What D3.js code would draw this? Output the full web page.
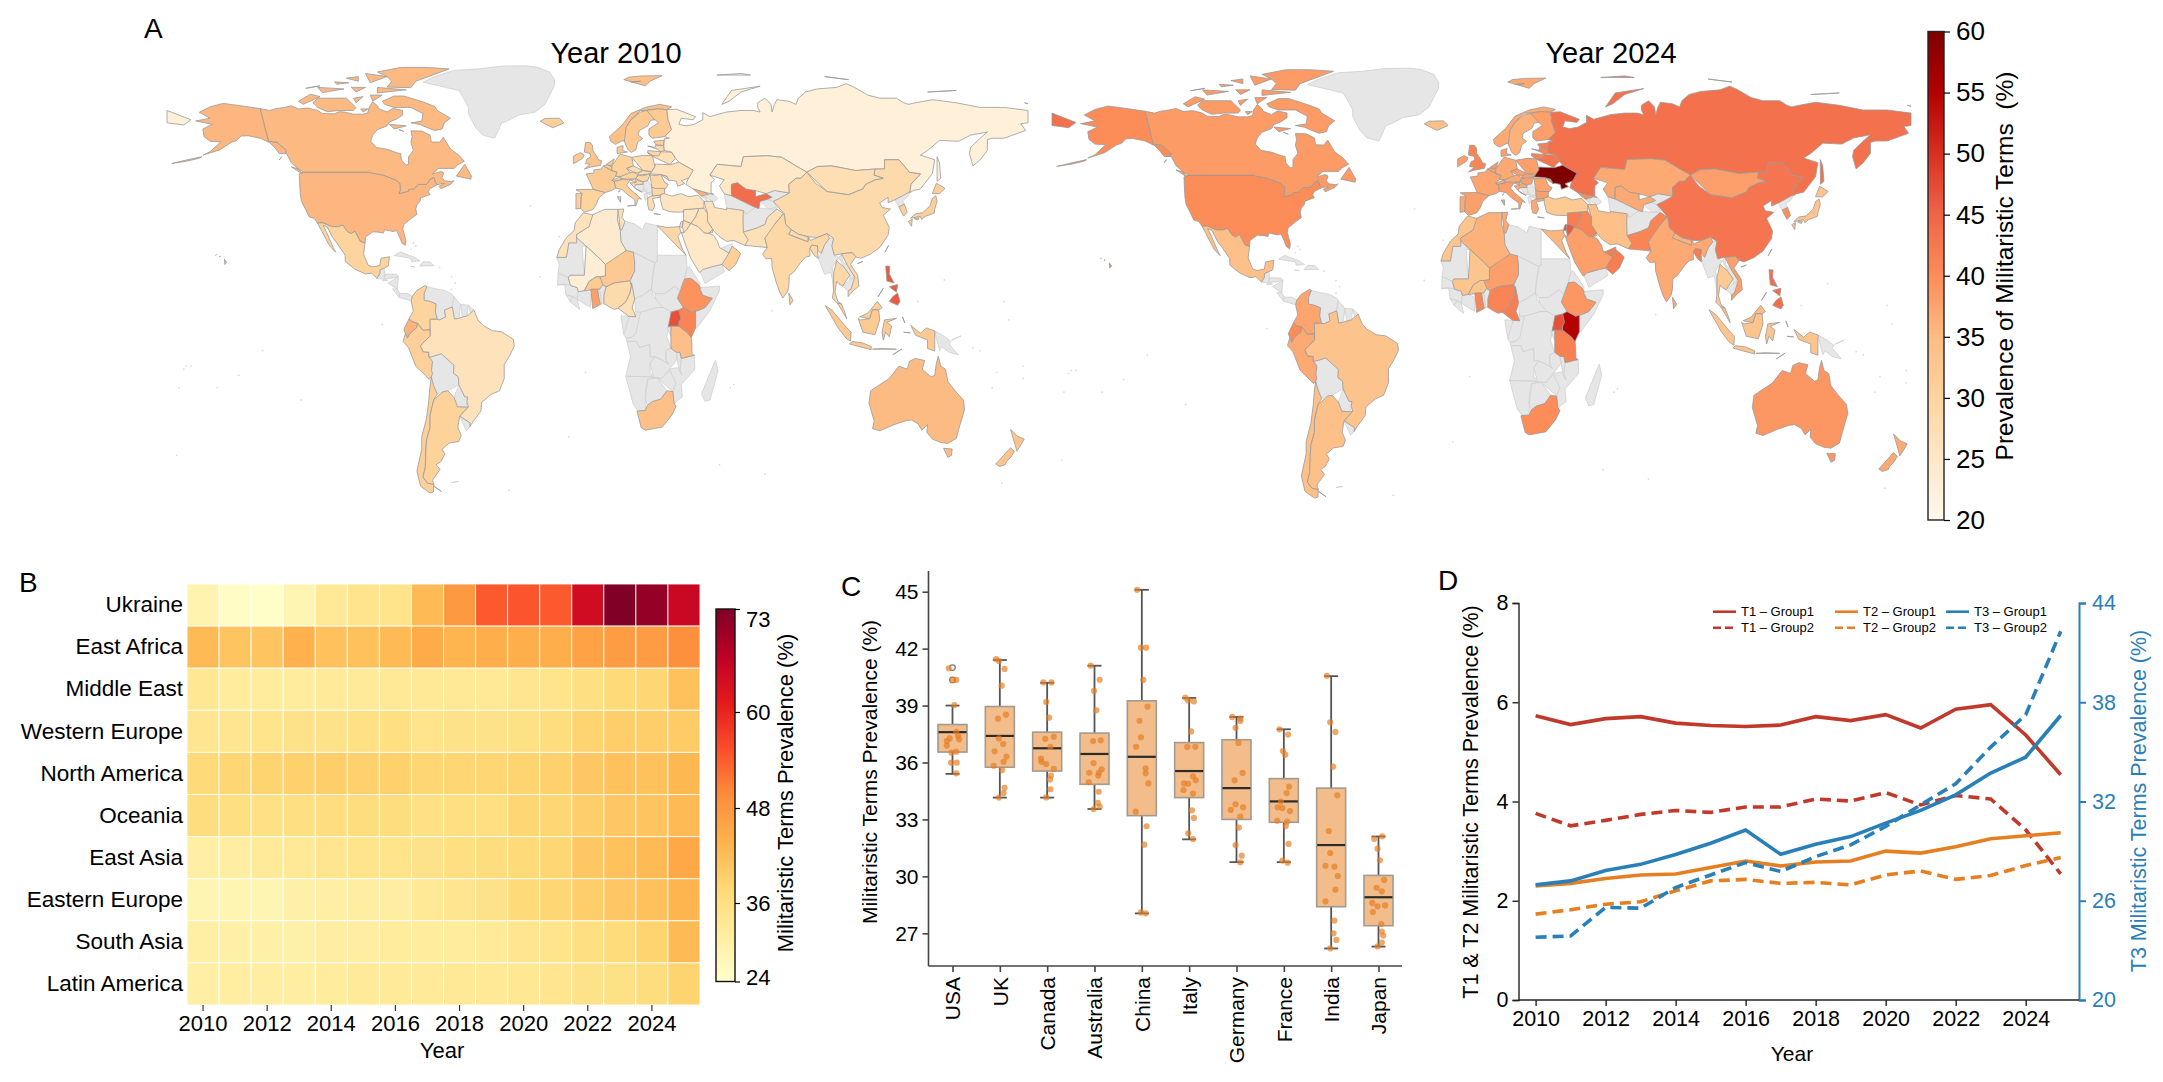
<!DOCTYPE html>
<html>
<head>
<meta charset="utf-8">
<script src="https://cdn.jsdelivr.net/npm/d3@7/dist/d3.min.js"></script>
<style>
html,body{margin:0;padding:0;background:#fff}
svg{display:block}
text{font-family:"Liberation Sans",Arial,sans-serif;fill:#000}
</style>
</head>
<body>
<svg id="fig" width="2163" height="1082" viewBox="0 0 2163 1082"></svg>
<script>
// ---------- Country outlines, simplified, as "lon lat" rings ----------
const countryRings = {
"United States":[
"-124.7 48.4,-123 49,-95.2 49,-94.6 48.7,-89.6 48,-84.5 46.5,-82.5 45.3,-82.4 43,-83 42,-79 42.8,-79 43.3,-76.5 43.6,-75 45,-71.5 45,-70 46.7,-68.3 47.3,-67.8 45.7,-67 44.9,-70 43.7,-70.8 42.7,-70 41.7,-74 40.6,-74.2 39.6,-75.5 38.4,-76 37,-75.5 35.3,-77.8 34,-81 32,-81.4 30.5,-80.1 26.8,-80.4 25.2,-81.8 26,-82.8 28,-84 30,-85.5 29.7,-89 30.3,-89.5 29.2,-91.5 29.5,-94 29.6,-97 27.9,-97.2 25.9,-99.2 26.5,-101.4 29.8,-103 29,-104.5 29.6,-106.5 31.8,-108.2 31.3,-111 31.3,-114.8 32.5,-117.1 32.5,-118.5 34,-120.6 34.5,-122 36.8,-123.8 39.5,-124.3 42,-124 46.2",
"-141 69.6,-148 70.4,-156.5 71.3,-162 70.2,-166.5 68.4,-162 66.5,-168 65.6,-161 64.5,-165 63,-164.5 60.5,-162 59,-157.5 58.8,-162 55.6,-165 54.5,-158 56.2,-153 58.7,-151 59.2,-149 60.7,-146 60.8,-141 60,-137 58.5,-135 57,-133 55,-130.5 55,-130 56,-134 58.7,-137.5 59,-141 60.3",
"-178 51.8,-172 52.5,-166 53.6,-165.5 54,-172 52.9,-178 52.2",
"-156 20.7,-155 19.7,-155.8 19,-156 19.8","-159.7 22,-159.3 22.2,-159.4 21.8","-158.2 21.6,-157.7 21.6,-158 21.2"],
"Canada":[
"-141 69.6,-137 69,-134.5 69.6,-131 70,-128 70.5,-125 69.5,-121 69.8,-117 69,-115 68,-110 67.9,-108 68.6,-106 68.5,-102 67.8,-98 67.8,-96 68.2,-95.5 70,-94 71.8,-92 70.5,-91.5 69.6,-88 68.5,-85.5 69.7,-81.5 69,-81.5 67.5,-84 66.2,-87 65.3,-88 64,-92 62.8,-94 61,-94.8 59,-92.5 57,-88 56.4,-84 55.3,-82.3 55,-82 52.9,-80 51.3,-79 51.5,-79 54,-77 56,-78 58.7,-77.5 60.5,-78 62.4,-73.5 62.3,-70 61,-69.5 58.8,-66 58.7,-64.5 60.3,-61.5 56.5,-58 54.5,-55.7 52.5,-58.5 51.3,-60 50.2,-66.5 50.2,-69 48.4,-65.5 49.2,-64.3 48.7,-65 47.2,-64 46.2,-61 45.9,-60 46.2,-61.5 45,-65.5 43.6,-66.2 44.4,-64 45.4,-67 44.9,-67.8 45.7,-68.3 47.3,-70 46.7,-71.5 45,-75 45,-76.5 43.6,-79 43.3,-79 42.8,-83 42,-82.4 43,-82.5 45.3,-84.5 46.5,-89.6 48,-94.6 48.7,-95.2 49,-123 49,-125 50,-128 52,-130 55,-130.5 55,-130 56,-134 58.7,-137.5 59,-141 60.3",
"-61.5 66.5,-64 65,-65 63,-68 62.5,-71.5 63.5,-74 64.4,-78 65,-73.5 65.5,-73 68,-78 70,-85 70,-89 71,-90 72,-85 73.7,-81 73.7,-78 73,-72 71.5,-68 70.3,-67 69,-63 67",
"-105 73,-110 73,-117 73,-119 71.5,-117 70,-113 68.6,-108 69,-102 69,-101 70,-105 71","-116 73.5,-120 74.3,-125 72,-123 71,-119 72",
"-62 82.5,-72 83,-82 83,-92 81.5,-88 80,-86 78.5,-88 76.6,-78 76.4,-76 78.5,-68 80.5","-80 75.7,-92 76.5,-92 74.7,-80 74.6",
"-88 80,-97 81,-95 78,-87 78","-106 76,-117 76.5,-115 74.8,-106 74.8","-90 74,-95 74,-94 72,-90 72",
"-59 47.7,-53 46.7,-52.7 47.7,-55.5 51.5,-57.5 50.5","-100 78.5,-105 79.5,-100 80,-96 79","-97 76.5,-103 76.5,-101 75,-96 75","-116 77,-122 76.2,-118 75.5","-96 69.5,-99 69.5,-98 68.5,-95 68.5","-80 64,-87 64.5,-85 63,-81 63.3","-83 62.8,-81 62.2,-80 62.9",
"-123.5 48.4,-128 50.7,-125 50,-123.5 48.9","-98 73.5,-102 73,-101 71.5,-97 72","-132 54,-133 53,-131.5 52","-104 78,-110 78.3,-109 77.5,-104 77.3"],
"Greenland":["-73 78.2,-68 80,-60 82,-50 82.5,-40 83.4,-30 83.5,-25 83,-20 81.5,-18 79,-18 77,-20 74,-22 71,-26 68.5,-33 67.5,-38 65.5,-40 65,-43 60,-48 61,-51 63.5,-52 65,-54 68,-54 70,-56 73,-58 75.5,-68 76"],
"Iceland":["-24 65.5,-22 66.4,-16 66.5,-14 65,-18.7 63.4,-22.7 63.9"],
"Mexico":["-117.1 32.5,-114.8 32.5,-111 31.3,-108.2 31.3,-106.5 31.8,-104.5 29.6,-103 29,-101.4 29.8,-99.2 26.5,-97.2 25.9,-97.8 22.3,-95.9 18.8,-94 18.2,-91 18.7,-90.5 21,-87 21.5,-87.5 18.4,-89.1 17.9,-91 17.2,-91 16,-92.2 14.5,-94.5 16.2,-97 15.9,-101.5 17.5,-105.5 20,-105.5 22,-109 26,-110.8 27.8,-113 31.2,-114.7 31.7,-113 29,-110.5 24.5,-109.5 23,-112 25,-115 28"],
"Guatemala":["-92.2 14.5,-91 16,-91 17.2,-89.1 17.9,-88.9 15.9,-89.2 14.2,-90.5 13.9"],
"Honduras":["-89.2 14.2,-88.9 15.9,-84 15.8,-83.2 15,-87.3 13"],
"El Salvador":["-90 13.7,-89.2 14.4,-87.7 13.8,-88 13.2"],
"Nicaragua":["-87.6 13,-83.2 15,-83.7 11,-85.7 11.1"],
"Costa Rica":["-85.7 11.1,-83.7 11,-82.6 9.6,-83 8.3,-85.5 9.7"],
"Panama":["-83 8.3,-82.6 9.6,-79.5 9.6,-77.4 8.7,-77.9 7.2,-80.3 7.4"],
"Cuba":["-85 21.9,-82.5 23.1,-77 21.5,-74.2 20.2,-77.7 19.9,-78 21,-82 22.3"],
"Hispaniola":["-74.4 18.5,-72.8 19.9,-69.9 19.8,-68.4 18.6,-71 18"],
"Jamaica":["-78.3 18.4,-76.3 18.2,-77 17.8"],
"Colombia":["-77.9 7.2,-77.4 8.7,-75.5 10.6,-72 12.2,-71.3 11.8,-72.5 9.5,-72.5 7.4,-70 7,-67.5 6.2,-67.8 3.5,-67 1.2,-70 1.2,-69.9 -4.2,-70 -2.2,-73 -2.4,-75.2 -0.1,-77.5 0.4,-78.8 1.4,-77 3.9,-77.5 6"],
"Venezuela":["-72.2 11.6,-71.3 11.8,-68.3 11.2,-64 10.6,-60.9 9.4,-60 8.5,-61 5.2,-60.7 5.2,-64 4.2,-63.5 2,-66 1,-67 1.2,-67.8 3.5,-67.5 6.2,-70 7,-72.5 7.4,-72.5 9.5"],
"Guyana":["-60 8.5,-57.2 6,-58 1.5,-59.8 1.3,-60.7 5.2,-61 5.2"],
"Suriname":["-57.2 6,-54 5.8,-54.5 2.3,-56.5 1.9,-58 1.5"],
"French Guiana":["-54 5.8,-51.7 4.2,-52.7 2.3,-54.5 2.3"],
"Ecuador":["-78.8 1.4,-77.5 0.4,-75.2 -0.1,-75.6 -1.5,-78.4 -3.4,-79.5 -4.9,-80.3 -3.4,-81 -2.2,-80 0.6"],
"Peru":["-80.3 -3.4,-79.5 -4.9,-78.4 -3.4,-75.6 -1.5,-75.2 -0.1,-73 -2.4,-70 -2.2,-69.9 -4.2,-73 -6.5,-74 -7.5,-72.9 -9.3,-70.5 -9.5,-70.5 -11,-69 -12.5,-69.4 -15.2,-69 -16.5,-69.5 -17.5,-70.4 -18.3,-72 -17,-76 -14,-79 -8,-81.3 -6,-81.2 -4.3"],
"Brazil":["-51.7 4.2,-50 1,-48 -0.7,-44 -2.5,-40 -2.9,-35.2 -5.3,-34.8 -7.5,-37 -11,-39 -13.5,-39 -18,-41 -22,-44.5 -23.2,-48.5 -25.8,-48.7 -28.5,-52 -32,-53.4 -33.7,-53.2 -32.5,-57.6 -30.2,-54 -27.2,-54.6 -25.6,-54.3 -24,-55.5 -24,-58 -20,-58.2 -17.5,-60.2 -16.3,-60 -13.7,-65.3 -10,-69.5 -11,-70.5 -11,-70.5 -9.5,-72.9 -9.3,-74 -7.5,-73 -6.5,-69.9 -4.2,-70 1.2,-67 1.2,-66 1,-63.5 2,-64 4.2,-60.7 5.2,-59.8 1.3,-58 1.5,-56.5 1.9,-54.5 2.3,-52.7 2.3"],
"Bolivia":["-69.4 -15.2,-69 -12.5,-70.5 -11,-69.5 -11,-65.3 -10,-60 -13.7,-60.2 -16.3,-58.2 -17.5,-58 -20,-62.6 -22,-64.5 -22.3,-67 -23,-68.2 -21,-69 -19,-69.5 -17.5,-69 -16.5"],
"Paraguay":["-58 -20,-55.5 -24,-54.3 -24,-54.6 -25.6,-55 -27.3,-58.5 -27.2,-60 -24.2,-62.6 -22"],
"Chile":["-69.5 -17.5,-69 -19,-68.2 -21,-67 -23,-68.5 -25,-70 -30,-70 -34,-71.5 -38,-71.8 -42,-72 -47,-73 -50,-71 -52,-68.4 -52.4,-68.6 -54.9,-70 -55.2,-74 -53,-75.5 -48,-73.5 -41,-73.5 -37,-71.5 -31,-70.5 -25,-70.1 -21,-70.4 -18.3"],
"Argentina":["-64.5 -22.3,-62.6 -22,-60 -24.2,-58.5 -27.2,-55 -27.3,-54 -27.2,-57.6 -30.2,-58.4 -34,-57 -36.5,-58 -38.5,-62 -39,-65 -41,-63.8 -42.5,-65.5 -45,-67.5 -46,-65.8 -47.5,-69 -51,-68.4 -52.4,-71 -52,-73 -50,-72 -47,-71.8 -42,-71.5 -38,-70 -34,-70 -30,-68.5 -25,-67 -23","-68.4 -53,-65.2 -54.7,-68.6 -54.9"],
"Uruguay":["-57.6 -30.2,-53.2 -32.5,-53.4 -33.7,-54.9 -35,-58.4 -34"],
"Falklands":["-61 -51.8,-58 -51.4,-59 -52.3"],
"Morocco":["-5.9 35.8,-2 35.1,-1.2 32.5,-3.5 31.3,-8.7 28.7,-8.7 26,-12 26,-13 21.3,-17 21.3,-16 23.8,-13 27.7,-9.8 30,-9.3 32.5,-6.8 34"],
"Algeria":["-2 35.1,3 36.9,8.6 36.9,8.3 33.5,9.5 30.2,9.8 26.5,12 23.5,5.8 19.4,3.3 19,1.2 20.7,-4.8 25,-8.7 27.7,-8.7 28.7,-3.5 31.3,-1.2 32.5"],
"Tunisia":["8.6 36.9,11 37,10.2 34.3,11.5 33,10.2 30.3,9.5 30.2,8.3 33.5"],
"Libya":["11.5 33,15.3 32.3,19 30.3,20 32.5,25 31.6,25 20,24 19.5,15 23,12 23.5,9.8 26.5,9.5 30.2,10.2 30.3"],
"Egypt":["25 31.6,29 31,34.2 31.3,34.9 29.5,33.6 28,35.5 24,37 22,25 22"],
"Sudan":["24 19.5,25 20,25 22,37 22,37.5 18,36.4 14.3,34.2 10.5,32.5 12,28 9.5,24 9.5,22.5 11,23 15.5"],
"South Sudan":["24 9.5,28 9.5,32.5 12,34.2 10.5,33.5 8,35.9 5,34 4.2,30.8 3.6,27.5 5,25 5,23.5 8.6"],
"Chad":["15 23,24 19.5,23 15.5,22.5 11,18.8 9,15.5 7.8,15 10,14.2 13,13.6 13.7,15.5 16.9,15.5 20"],
"Niger":["12 23.5,15 23,15.5 20,15.5 16.9,13.6 13.7,10 13.3,7 13,3.6 11.7,2.2 12.4,1 13.3,1 15,3.3 15.3,3.3 19,5.8 19.4"],
"Mali":["-4.8 25,1.2 20.7,3.3 19,3.3 15.3,1 15,-0.5 15,-3.5 13.5,-5.5 10.5,-8 10.2,-8.5 11.5,-11.3 12.2,-12.2 14.7,-11.5 15.5,-5.5 15.5,-6.5 25"],
"Mauritania":["-8.7 27.7,-4.8 25,-6.5 25,-5.5 15.5,-11.5 15.5,-12.2 14.7,-16.5 16.2,-16 19,-17 21.3,-13 21.3,-12 26,-8.7 26"],
"Senegal":["-16.5 16.2,-12.2 14.7,-11.3 12.4,-16.7 12.4,-17.5 14.7"],
"Guinea":["-13.7 12.6,-11.3 12.2,-8.5 11.5,-8 10.2,-8.5 7.7,-10 8.5,-13.2 9.2,-15 10.9"],
"Guinea-Bissau":["-16.7 12.4,-13.7 12.6,-15 11"],
"Sierra Leone":["-13.2 9.2,-10.3 8.5,-11.5 7,-13.2 8.2"],
"Liberia":["-11.5 7,-10 8.5,-8.5 7.7,-7.5 4.4,-9 5"],
"Ivory Coast":["-8.5 7.7,-8 10.2,-5.5 10.5,-2.8 9.5,-3 5.1,-7.5 4.4"],
"Burkina Faso":["-5.5 10.5,-3.5 13.5,-0.5 15,1 15,2.2 12.4,0.9 11,-2.8 11"],
"Ghana":["-2.8 11,0 11,0.6 8,1.2 6,-2 4.7,-3 5.1"],
"Togo":["0 11,0.9 11,1.6 9,1.7 6.2,1.2 6,0.6 8"],
"Benin":["0.9 11,2.2 12.4,3.6 11.7,2.7 9,2.7 6.3,1.7 6.2,1.6 9"],
"Nigeria":["2.7 6.3,2.7 9,3.6 11.7,7 13,10 13.3,13.6 13.7,14.2 12,13.5 9.5,11.7 6.7,8.6 4.8,7 4.4,5.5 5,4.4 6.3"],
"Cameroon":["8.6 4.8,11.7 6.7,13.5 9.5,14.2 12,14.2 13,15 10,15.5 7.8,14.5 5,16 2,13 2.2,9.8 2.3"],
"Central African Republic":["15.5 7.8,18.8 9,22.5 11,23.5 8.6,27.5 5,25 5,19 3.5,16 3.5,14.5 5"],
"Gabon":["9.8 2.3,13.3 2.2,14.5 -2,11 -3.8,8.8 -1"],
"Congo":["13.3 2.2,16 2,16 3.5,18 3.5,17.8 -1,16 -3.5,14 -4.8,12 -5,11 -3.8,14.5 -2"],
"DR Congo":["18 3.5,25 5,27.5 5,30.8 3.6,31 1,29.6 -1.2,29 -4.5,30.7 -8.2,28.6 -9,28.7 -12,29.8 -13.4,27 -12,24 -11,22 -11,21.8 -7,17.5 -8,16.3 -6,12.3 -6,12 -5,14 -4.8,16 -3.5,17.8 -1"],
"Angola":["12.3 -6,16.3 -6,17.5 -8,21.8 -7,22 -11,24 -11,22 -13,22 -16,23.4 -17.6,18.5 -17.4,11.8 -17.3,13.8 -11,13.2 -9"],
"Namibia":["11.8 -17.3,18.5 -17.4,23.4 -17.6,25 -17.8,21 -18.3,20 -22,20 -28.4,17 -28.5,15 -26.5,14.5 -22.5"],
"Botswana":["21 -18.3,25 -17.8,29 -22,26.5 -24.7,23 -25.5,20.8 -26.8,20 -24.8,20 -22"],
"Zimbabwe":["25 -17.8,27 -17.9,29.8 -15.6,33 -16.8,32.8 -19.5,31.5 -22.3,29 -22"],
"Zambia":["22 -13,24 -11,27 -12,29.8 -13.4,28.7 -12,28.6 -9,30.7 -8.2,33 -9.5,33.2 -12,30 -15,27 -17.9,25 -17.8,23.4 -17.6,22 -16"],
"Mozambique":["30 -15,33.2 -14.5,34.5 -15,35 -11.5,40.5 -10.5,40.7 -15,35 -20,35.5 -24,32.9 -25.5,32 -26.5,31.5 -22.3,32.8 -19.5,33 -16.8"],
"Malawi":["33 -9.5,34.5 -9.5,35 -11.5,34.5 -15,35.3 -17,34 -15,33.2 -14"],
"South Africa":["16.5 -28.6,20 -28.4,20.8 -26.8,23 -25.5,26.5 -24.7,29 -22,31.5 -22.3,32 -26,32.9 -27,31 -30,27 -33.8,20 -34.8,18.3 -34,18 -31.5"],
"Lesotho":["27 -29.6,28.5 -28.6,29.4 -29.5,28 -30.6"],
"Tanzania":["30.7 -1,34 -1,37.7 -3.2,39.2 -4.7,39.5 -7,39.5 -10,40.5 -10.5,35 -11.5,34.5 -9.5,33 -9.5,30.7 -8.2,29.5 -4.5"],
"Kenya":["34 4.2,35.9 5,39.5 3.5,41 3.9,41 -1.6,39.2 -4.7,37.7 -3.2,34 -1,33.9 0.2"],
"Uganda":["30.8 3.6,34 4.2,34.8 1.5,33.9 0.2,34 -1,30.7 -1,29.6 -1.2,31 1"],
"Rwanda-Burundi":["29 -1.5,30.7 -1.2,30.7 -4.3,29.3 -4.4"],
"Ethiopia":["36.4 14.3,39 14.5,42.4 12.4,43 11.5,42.9 10.9,44 9,48 8,45 5,42 4,41 3.9,39.5 3.5,35.9 5,33.5 8,34.2 10.5"],
"Eritrea":["36.4 14.3,37.5 18,38.6 18,43 12.7,42.4 12.4,39 14.5"],
"Somalia":["43 11.5,51 12,51 10.5,47 4,41.5 -1.6,41 -1.6,41 3.9,42 4,45 5,48 8,44 9,42.9 10.9"],
"Madagascar":["49.3 -12,50.4 -15.5,47 -25,45 -25.5,43.5 -23,44.5 -16.5"],
"Portugal":["-9 42,-6.3 42,-6.8 41,-7 37.2,-9 37,-9.5 38.8"],
"Spain":["-9 43.3,-1.8 43.4,3.2 42.4,0.5 40.5,-0.5 38.5,-2 36.8,-5.5 36,-7 37.2,-6.8 41,-6.3 42,-9 42"],
"France":["-1.8 43.4,3.2 42.4,6 43,7.6 43.8,7 46,6 46.3,7.6 47.6,8.2 49,6 49.5,2.5 51,1.5 50,-1.5 49.7,-1.5 48.7,-4.7 48.4,-1.2 46","8.6 42.5,9.5 43,9.3 41.5"],
"Belgium":["2.5 51,4.2 51.4,6 50.6,6 49.5,4 50"],
"Netherlands":["3.5 51.4,6 51,7 53.3,5 53.3"],
"Germany":["6 51,6 49.5,8.2 49,7.6 47.6,13 47.5,13.8 48.7,12.2 50.2,15 51,14.3 53.8,9.5 54.8,8.7 54,7 53.5"],
"Denmark":["8.2 55,8.2 57,10.7 57.6,10.5 56,12.5 55.5,9.8 54.8"],
"Switzerland":["6 46.3,7 46,10.4 46.6,9.5 47.5,7.6 47.6"],
"Austria":["9.5 47.5,9.5 47,12 46.7,16 46.8,17 48,15 49,13 48.6,13 47.5"],
"Italy":["7.6 43.8,7 46,10.4 46.6,13.7 46.5,12.2 44.8,13.5 43.5,16 41.9,18.4 40.2,17 40.5,16.5 39,16 38,15.7 38.2,15.6 40,12.4 41.8,10.3 43.3,8.8 44.4","12.5 38,15.6 38.2,15 36.7","8.3 41,9.7 41,9.6 39.2,8.5 39"],
"United Kingdom":["-5 58.6,-3 58.6,-2 57.5,-2 56,-0.2 54,0.4 53,1.7 52.7,1.3 51.2,-3 50.6,-5.5 50,-3 51.5,-5 51.8,-4.4 53.3,-3 53.8,-3 55,-5.5 55.5,-6 57"],
"Ireland":["-6.2 53.5,-5.6 54.6,-7.3 55.3,-10 54.2,-10 51.7,-6.4 52.2"],
"Norway":["5 60.5,5.5 59,7.5 58,10.5 59.2,11.5 59,12.3 61,12 63.5,14 66,18 69,20 69,25 69.5,29 69.3,31 70.2,26 71,20 70,14 68,10 64,5 62","11 79,13 79.8,18 80.2,27 80.3,22 78.5,20 77,15 76.6","14 78.2,18 78.5,16 77.3"],
"Sweden":["11.2 59,12.7 56.3,14.2 55.4,16 56.2,16.8 58.7,18.9 59.9,17 61,17.5 62.5,21 64,22.2 65.8,24 66,23.5 68,20.5 69,18 68.5,14 66,12 63.5,12.3 61"],
"Finland":["24 66,25.5 65,21.5 63,21.5 61,23 60,28 60.5,31 62.8,29.5 66,29 69.3,25 69.5,20.5 69,23.5 68"],
"Poland":["14.3 53.8,19 54.4,23 54.3,24 50.7,22.7 49.2,19 49.5,15 51"],
"Czechia":["12.2 50.2,15 51,18.8 49.6,17 48.7,15 49,13.8 48.7"],
"Slovakia":["17 48,17 48.7,19 49.5,22.5 49,22 48.4,18.8 47.8"],
"Hungary":["16 46.8,17 48,18.8 47.8,22 48.4,21 46.2,18.8 45.9,16.6 46.4"],
"Slovenia":["13.7 46.5,16 46.8,16 45.5,13.6 45.5"],
"Croatia":["13.6 45.5,16 45.6,16.6 46.4,19 45.8,19 45,16 45,15.5 44,18.5 42.5,16 43.5,14 45"],
"Bosnia":["16 45,19 45,19.5 43.5,18.5 42.5,15.5 44"],
"Serbia":["19 45.8,21 46.2,22.7 44.5,22.7 42.5,20.5 42.2,19.5 43.5,19 45"],
"Montenegro":["18.5 42.5,19.5 43.5,20.5 42.9,19.4 41.9"],
"Albania":["19.4 41.9,20.5 42.3,21 40.7,20 39.7,19.3 40.5"],
"North Macedonia":["20.5 42.2,22.7 42.3,23 41.3,21 40.9"],
"Greece":["21 40.7,23 41.3,26.3 41.7,26 40.8,23 40.4,24 38,23 36.5,21.5 36.8,21 38.3,20 39.7","23.5 35.5,26.3 35.2,24 35"],
"Bulgaria":["22.7 44.2,28 43.7,28 42,26.3 41.5,23 41.3,22.7 42.3"],
"Romania":["22 48,24.5 47.9,26.5 48.2,28.2 45.5,29.6 45,28.6 43.7,24 43.7,22.7 44.2,21 46.2"],
"Moldova":["26.5 48.2,29 47.7,30 46.2,28.2 45.5"],
"Belarus":["23.5 53.9,23 54.3,26.5 55.6,31 55.5,32.7 53.4,31 52.2,30.5 51.4,24 51.6"],
"Lithuania":["21 56,21 55.2,23 54.3,25.6 54.3,26.5 55.6,25 56.4"],
"Latvia":["21 57.5,24 57,24.4 57.8,27.7 57.5,28 56,26.5 55.6,25 56.4,21 56"],
"Estonia":["23.5 59,28 59.4,27.5 57.6,24.4 57.9,23.5 58.5"],
"Russia":[
"28 59.8,30 60,28 60.5,31 62.8,29.5 66,29 69.3,33 69.4,41 67,40 66,35 66.5,34 64.5,37 64,40.5 64.5,44 66,44 68.3,47 67,54 68.5,60 69,65 69,68 68.5,67 70,67 71.5,70 73,72.5 71,73 68.5,74 71,75 72.5,80 72,83 71,84 73,87 75,92 76,100 76.5,104 77.7,107 76.7,113 74,118 73,125 73,128 71.5,130 71,133 71.5,140 72.5,150 71.5,160 70,170 70,175 69.5,180 69,180 65,177 64.7,179 62.5,170 60,165 60,163 59.5,163 56,162 55,160 53,157 51,155.5 55,156 57,160 60,163 62,156 61,151 59,143 59.3,138 56,135 54.5,141 53,140 48.5,135 43.5,132 43,130.7 42.3,131 45,135 48.4,130.5 48.9,126 53,120 53,120 50,116 50,108 49.5,98 51,92 50.8,87.5 49,83 51,77 53.8,71 54.3,61 54,60 50.8,50 51.5,47 48,49 46.5,47.5 45.5,47.5 42,48.5 41.8,44 42.6,40 43.5,37 45,38 47.1,40 49.6,34 52.2,32.7 53.4,31 55.5,28 56,27.7 57.5,28 59.4",
"-180 65,-180 69,-175 67.5,-170 66,-173 64.3,-178 65.5","52 71,56 75.5,68 76.9,60 75,55 72,56 70.8","142 54,143 52,143.5 47,142 46,142 50","95 80,105 79,100 78","138 75,150 75.5,145 73.5","178.5 71.5,180 71.2,180 70.8","21 55.3,22.8 54.4,20 54.4","50 80.5,60 81,64 80.5,55 79.8"],
"Ukraine":["22 48.4,22.7 49.2,24 50.7,24 51.6,30.5 51.4,34 52.2,40 49.6,38.2 47.1,35 46.2,36.5 45.3,33.5 44.4,33 46,30.7 46.4,30 46.2,29 47.7,26.5 48.2,24.5 47.9"],
"Kazakhstan":["47 48,50 51.5,60 50.8,61 54,71 54.3,77 53.8,83 51,87.5 49,85 47,83 47,80 45,80.2 42.2,74 43,70.5 42,66 43,66 41,62 43.5,58.5 45.5,56 45,56 41.3,53 42,51 44.5,53 46.5,49 46.5"],
"Uzbekistan":["56 41.3,56 45,58.5 45.5,62 43.5,66 43,66 41,70.5 42,73 40.8,71 40.2,68 39.5,67.5 37.2,66 37.5,62 41"],
"Turkmenistan":["53 42,56 41.3,62 41,66 37.5,62 35.3,61 36.5,54 37.3,53 40"],
"Tajikistan":["68 39.5,71 40.2,73.5 39.5,75 37.5,71.5 37,67.5 37.2"],
"Kyrgyzstan":["70.5 42,74 43,80.2 42.2,76 40.4,73.5 39.5,71 40.2,73 40.8"],
"Afghanistan":["61 36.5,62 35.3,66 37.5,71.5 37,75 37,71 34.3,70 32,66.5 30.8,61 29.5,60.8 34"],
"Pakistan":["61 29.5,66.5 30.8,70 32,71 34.3,75 37,77.8 35.5,74 32,75 30.5,70 27.5,71 24.5,67 24.8,61.6 25.2,63 27"],
"Iran":["44.5 39.5,48 39.5,49 37.5,54 36.8,54 37.3,61 36.5,60.8 34,61 29.5,63 27,61.6 25.2,57 26.8,54 26.5,51 28,48.5 30,46 33,46 35.5,44.5 37.5"],
"Iraq":["42.4 37.2,44.5 37.3,46 35.5,46 33,48.5 30,47.7 30,46.5 29.1,44.7 29.2,42 31.3,39 32.3,41 34.5,41.3 37"],
"Syria":["36 36.8,42.4 37.2,41 34.5,39 32.3,36 33.3,35.9 35"],
"Israel":["34.3 31.3,35 33,35.8 33,35.4 31,35 29.5"],
"Jordan":["35.5 31.5,36 33.3,39 32.3,37.5 30.5,36 29.2,35 29.5"],
"Turkey":["26.3 40,26.3 41.7,28 42,31 41.2,35 42,38 41,42 41.5,44.5 39.5,44.5 37.3,42.4 37.2,36 36.8,36 36,32 36,30 36.2,27.3 37,26.3 39"],
"Saudi Arabia":["35 29.5,36 29.2,37.5 30.5,39 32.3,42 31.3,44.7 29.2,46.5 29.1,48.5 28.5,50.2 26.5,51 24.5,55 22.7,55.7 22,52 19,49 18.5,44 17.4,43 16.5,42.5 16.5,39 21,37 25,35 28"],
"Yemen":["43 16.5,44 17.4,49 18.5,52 19,53 16.6,45 12.8,43.5 12.7"],
"Oman":["52 19,55 22.7,56.3 24.9,58.7 23.5,59.8 22.5,57.8 19,55 17,53 16.6"],
"UAE":["51.5 24.2,55 22.7,56.3 24.9,56.3 25.8,54 24.2"],
"Kuwait":["46.5 29.1,47.7 30,48.3 29.5,48.5 28.5"],
"Georgia":["40 43.5,44 42.6,46.4 41.8,43.5 41.2,41.5 41.5"],
"Armenia":["43.5 41.2,45 41,46.5 39,44.8 39.7"],
"Azerbaijan":["45 41,46.4 41.8,48.5 41.8,50.3 40.4,49 39.5,48 39.5,46.5 39"],
"China":["73.5 39.5,76 40.4,80.2 42.2,80 45,83 47,85 47,87.5 49,91 45.5,96 42.7,105 41.7,111 43.6,112 45,116 46.5,119.5 47,115.6 48,116 50,120 50,120 53,126 53,130.5 48.9,135 48.4,131 45,130.7 42.7,128 41.5,124.3 40,121.5 39,121.5 40.8,118 39,119 37.5,122.5 37,119.5 35,122 31,121.5 28.5,118 24.5,114 22.3,110 21,108 21.5,106.5 22.8,102 22.5,99 22,98 25,98.7 27.5,96 29,92 27.8,88 28,84 28.8,81 30.3,78.7 32,78 35.5,74.5 37.2","108.7 19.3,111 20,110 18.4"],
"Taiwan":["120.2 23,121.7 25.2,120.8 22"],
"Mongolia":["87.5 49,92 50.8,98 51,108 49.5,116 50,115.6 48,119.5 47,116 46.5,112 45,111 43.6,105 41.7,96 42.7,91 45.5"],
"North Korea":["124.3 40,128 41.5,130.7 42.5,129.7 41,127.5 39.7,128.3 38.6,126 37.7,125 38"],
"South Korea":["126 37.7,128.3 38.6,129.5 36,128 34.7,126.3 34.6"],
"Japan":["130.9 34,133 35.5,136 35.8,139 38,140 40.5,141.5 41.3,142 39.5,141 37,140.8 35.7,137 34.6,135.5 33.6,135 34.6,132 34","140 42,141.7 45.4,145.3 43.7,143 42,141 42.8","130 33,131.6 33.7,131.3 31.4,130.3 31.3","132.5 33.9,134.5 34.2,134 33.4,133 32.8"],
"India":["74 32,77.8 35.5,78 35.5,78.7 32,81 30.3,80 28.8,84 27.5,88 26.4,88.2 28,89 26.8,92 27.8,96 29,97 27.5,95 25.5,93.5 22.5,92 23.7,92 25,89.7 25.3,88.8 24.3,88.8 21.7,87 21.4,85 19.7,82 16.5,80.2 15.5,80 12,79.5 10.3,77.5 8.1,76.2 10,74.8 13,73 18,72.8 21,70.5 20.8,69 22.3,71 24.5,70 27.5,75 30.5"],
"Bangladesh":["88.8 24.3,89.7 25.3,92 25,92 23.7,92.3 21,90.5 22,88.8 21.7"],
"Nepal":["80 28.8,81 30.3,84 28.8,88 28,88 26.4,84 27.5"],
"Sri Lanka":["80 9.7,81.8 7.3,80.5 5.9,79.8 7.5"],
"Myanmar":["92.3 21,93.5 22.5,95 25.5,97 27.5,98.7 27.5,98 25,99 22,101 21.3,100 20.3,98 18,98.7 16,98.7 10.5,98.2 14,97.5 16.5,95 15.8,94.3 18.5"],
"Thailand":["100 20.3,101 19.5,103 18.2,105.5 15.5,102.5 12,101 12.7,100 13.5,99.3 10,100.5 7,102 6.2,100.3 6.5,98.2 8,98.7 10.5,98.7 16,98 18"],
"Laos":["101 21.3,102 22.5,102.5 20,104.5 18.7,107.5 15,105.5 14,105.5 15.5,103 18.2,101 19.5"],
"Cambodia":["102.5 12,105.5 14,107.5 14.7,106 11,104.8 10.4,103 11"],
"Vietnam":["102 22.5,106.5 22.8,108 21.5,105.8 19,108.8 15.5,109.3 12,106.8 10.4,104.8 8.6,104.8 10.4,106 11,107.5 14.7,107.5 15,104.5 18.7,102.5 20"],
"Malaysia":["100.3 6.5,102 6.2,103.4 3.5,104.2 1.4,101.3 3","109.6 2,113 3.2,117 7,119 5,117.6 4.2,115 4.3,113.8 1.4,110 1"],
"Indonesia":["109 1.5,110 1,113.8 1.4,115 4.3,117.6 4.2,118 1,116 -3.8,111 -3,109.5 -1","95.3 5.6,98 4.2,103.6 -1,106 -3,105.8 -5.9,104 -5,100.5 -1.5,97 3","105.3 -6.8,106.5 -6,111 -6.5,114.5 -7.7,114.4 -8.7,108 -7.8","119.5 -5.5,119 -3,120 1,125 1.5,121 0.2,123 -1,122 -4.5,120.5 -3,120.4 -5.5","115 -8.5,119 -8.3,125 -8.5,116 -9","123.5 -10.3,127.3 -8.4,125 -8.7","127.5 2,128.5 0,127.5 -0.8","128 -3,130.8 -3.2,128.5 -3.5","131 -0.8,135 -3.3,137.5 -1.6,141 -2.6,141 -9.1,138 -8.3,138 -5.5,133 -4,132.8 -2.8"],
"Papua New Guinea":["141 -2.6,145 -4.3,147.8 -6,147 -6.8,150.8 -10.3,147 -9.5,144 -7.7,143 -9,141 -9.1","148 -5.6,152 -4.2,151 -6"],
"Philippines":["120.5 18.5,122.2 18.4,122 16,124 13,121 13.6,120 16","122 7,123.5 8.6,125.5 9.7,126.5 7,125.5 5.8,124 6.5","122 11.8,125.5 12.5,125 10,123 9.2","117.3 8.5,119.5 11.3,119.3 10.3"],
"Australia":["114.2 -22,113.5 -26,115.7 -31.8,115 -34.3,118 -35,124 -33,129 -31.7,131.2 -31.5,134 -32.7,135.6 -34.8,138 -33,137.7 -35.5,140 -37.7,143.5 -38.8,146.4 -39.1,150 -37.5,151.3 -33.8,153.5 -28,153 -25,149.5 -22,146.5 -19,145.5 -15,143.5 -14,142.5 -10.8,141.7 -13,141 -17,139.5 -17.5,135.8 -15,136.8 -12.2,133 -11.5,130.5 -12.4,129.5 -15,126 -14,122 -18,116 -20.5","144.7 -40.7,148.3 -40.9,148 -43,146.5 -43.6,145.3 -42.5"],
"New Zealand":["172.7 -34.5,175.5 -36.7,178.4 -37.7,177 -39.6,175.3 -41.6,174.7 -39.8,174.7 -37.5","172.7 -40.5,174.3 -41.7,172.8 -43.6,171 -45,170.5 -46,168 -46.6,166.5 -45.8,170 -43"]
};

// Scattered small islands with no reported value
const smallIslands = [[-175,-21],[178,-18],[-172,-14],[167,-16],[165,-21],[160,-9],[157,-8],[-150,-17],[-140,-9],[-90,-0.5],[-16,28],[-24,15],[-28,38],[57,-20],[55.5,-21],[70,-49],[-37,-54.3],[-61,15],[-61,11],[-66,18],[73,4],[-5,-16],[170,7],[172,1],[145,14],[134,7],[-170,-14],[-176,-43],[169,-52],[-59.5,13],[-76,25],[-78,24],[-77,26],[-159,-21],[-124,-25],[-12,-37],[51,-46],[-173,-15],[178,-14]];

// ---------- Panel A: national prevalence by year (%) ----------
const prevalence2010 = {"United States":35.5,"Canada":35.2,"Iceland":31,"Mexico":30,"Colombia":30,"Ecuador":36,"Peru":31,"Brazil":26.5,"Chile":31,"Argentina":30.5,"Morocco":26.5,"Algeria":24,"Tunisia":27,"Egypt":29,"Mali":23,"Niger":32.5,"Burkina Faso":32,"Ghana":38,"Nigeria":28.5,"Cameroon":27,"Ethiopia":39.5,"Kenya":41,"Uganda":47,"Tanzania":34.5,"South Africa":34,"Portugal":31,"Spain":30,"France":32,"Belgium":31,"Netherlands":32,"Germany":30.5,"Denmark":32,"Switzerland":30,"Austria":30,"Italy":31,"United Kingdom":33,"Ireland":32,"Norway":34,"Sweden":32,"Finland":32,"Poland":28,"Czechia":28,"Slovakia":28,"Hungary":29,"Slovenia":29,"Croatia":29,"Greece":28,"Bulgaria":29,"Romania":29,"Moldova":28,"Belarus":27,"Lithuania":29,"Latvia":29,"Estonia":31,"Russia":22.5,"Ukraine":26.5,"Kazakhstan":25,"Uzbekistan":44,"Georgia":36,"Pakistan":27,"Iran":26.5,"Iraq":27,"Syria":26,"Israel":28,"Jordan":27,"Turkey":26,"Saudi Arabia":25,"Oman":31,"Kuwait":28,"China":28.5,"Taiwan":31,"Mongolia":27.5,"South Korea":31,"Japan":31,"India":29,"Bangladesh":29,"Nepal":28,"Sri Lanka":31,"Thailand":29,"Vietnam":29,"Malaysia":31,"Indonesia":32,"Philippines":46,"Australia":35,"New Zealand":33};
const prevalence2024 = {"United States":40,"Canada":38.5,"Iceland":34,"Mexico":34,"Colombia":37.5,"Ecuador":40,"Peru":37,"Brazil":33.5,"Chile":34,"Argentina":34,"Morocco":33,"Algeria":36,"Tunisia":37,"Egypt":35.5,"Mali":33,"Niger":38,"Burkina Faso":33,"Ghana":41,"Nigeria":41,"Cameroon":42,"Ethiopia":39,"Kenya":55,"Uganda":47,"Tanzania":41.5,"South Africa":40,"Portugal":37,"Spain":38,"France":37.5,"Belgium":38,"Netherlands":39,"Germany":37,"Denmark":38,"Switzerland":37,"Austria":37,"Italy":38,"United Kingdom":41,"Ireland":38,"Norway":37,"Sweden":36,"Finland":38,"Poland":38,"Czechia":38,"Slovakia":38,"Hungary":38,"Slovenia":38,"Croatia":37,"Greece":37,"Bulgaria":38,"Romania":37.5,"Moldova":40,"Belarus":43,"Lithuania":41,"Latvia":41,"Estonia":42,"Russia":43.5,"Ukraine":60,"Kazakhstan":37,"Uzbekistan":37,"Georgia":40,"Pakistan":41,"Iran":34,"Iraq":41,"Syria":42,"Israel":47,"Jordan":46,"Turkey":32,"Saudi Arabia":38,"Oman":42,"UAE":42,"Kuwait":40,"China":43,"Taiwan":43,"Mongolia":38,"South Korea":40,"Japan":33,"India":37,"Bangladesh":42,"Nepal":36,"Sri Lanka":37,"Thailand":32,"Vietnam":38,"Malaysia":35,"Indonesia":33,"Philippines":44,"Australia":39,"New Zealand":37};
const mapTicks = [20,25,30,35,40,45,50,55,60];

// ---------- Panel B: regional prevalence (%) ----------
const heatYears = d3.range(2010,2026);
const heatYearTicks = [2010,2012,2014,2016,2018,2020,2022,2024];
const heatRegions = ["Ukraine","East Africa","Middle East","Western Europe","North America","Oceania","East Asia","Eastern Europe","South Asia","Latin America"];
const heatValues = [
 [28,25,24.5,27.5,31.5,33,33,41,46.5,53.5,54,53.5,64,73,71,65],
 [41,39.5,39.5,42.5,40,40,41,43.5,42,43,43,43,45,46,46,48],
 [32,30.5,30.5,30.5,31,31,31.5,31.5,31.5,31.5,32.5,33,34.5,36,36.5,40],
 [32.5,32.5,33,33.5,33.5,34,34.5,33,33.5,33.5,34,35,37,38,38,38.5],
 [36,36.5,37,37.5,38,37.5,37.5,36.5,36.5,36.5,37,37.5,39,40,40,41.5],
 [35,34.5,34,34.5,35,35,35,34,34.5,34.5,36.5,36.5,38,39,39.5,41],
 [29.5,30,31,31.5,32.5,33,33,33.5,34.5,35,36,36.5,39,40,41,44],
 [27.5,27.5,27.5,29,29.5,30,30,31.5,32.5,33.5,36,36.5,38,39,40,42],
 [29.5,29,29,29,30,30,30.5,30.5,30.5,31,32.5,33,34.5,35.5,37,41],
 [29.5,30,30,30,30.5,31,31,31,31.5,31.5,32,32.5,33.5,34,35,37]
];
const heatBarTicks = [24,36,48,60,73];

// ---------- Panel C: yearly prevalence distribution per country (%) ----------
const boxCountries = ["USA","UK","Canada","Australia","China","Italy","Germany","France","India","Japan"];
const boxLow  = [35.4,34.15,34.15,33.55,28.05,31.95,30.75,30.75,26.2,26.3];
const boxQ1   = [36.55,35.75,35.55,34.85,33.2,34.15,33,32.85,28.4,27.4];
const boxMed  = [37.6,37.4,36.75,36.45,36.3,35.55,34.65,33.95,31.65,28.9];
const boxQ3   = [38,38.95,37.6,37.55,39.25,37.05,37.2,35.15,34.65,30.05];
const boxHigh = [39,41.4,40.2,41.1,45.1,39.4,38.4,37.75,40.55,32.1];
const boxOutliers = [[41,40.35],[],[],[],[],[],[],[],[],[]];
const boxPoints = [
 [40.96,40.35,40.35,39.03,37.62,37.41,37.13,37.27,37.22,36.89,36.52,36.57,35.99,35.99,35.43],
 [41.45,41.35,40.93,40.05,38.31,38.52,37.27,36.97,36.59,36.31,36.04,35.83,35.6,34.67,34.39,34.15],
 [40.22,40.22,39.19,38.36,37.25,37.36,36.82,36.2,36.03,35.92,35.66,35.31,35.11,34.59,34.16],
 [41.1,40.36,39.77,38.75,37.13,37.17,35.97,35.64,35.46,35.46,35.31,34.97,34.46,33.88,33.67,33.55],
 [45.1,42.05,42.05,40.35,38.94,38.2,37.33,36.83,35.69,35.43,34.9,33.41,32.64,31.67,28.1,28.05],
 [39.42,39.27,39.22,37.64,36.82,36.83,35.27,34.9,34.88,35.06,34.55,34.36,33.48,33.08,32.27,31.97],
 [38.4,38.31,38.19,37.83,37.03,35.45,35.06,33.8,33.5,33.64,33.15,32.57,31.65,31.09,30.74],
 [37.75,37.47,36.6,36.41,34.73,34.39,33.94,33.64,33.6,33.44,32.93,32.88,32.65,31.71,30.83,30.72],
 [40.57,38.12,37.61,35.78,34.27,32.39,31.23,30.56,30.51,30.02,29.3,28.68,27.67,27,26.65,26.21],
 [32.11,31.97,31.46,30.85,29.81,29.4,29.21,28.6,28.42,28.47,28.12,27.49,27.09,26.88,26.51,26.31]
];
// Horizontal scatter of each dot, as a share of the category spacing
const boxJitter = [
 [-.08,.08,0,.04,.08,.12,-.12,-.06,.14,-.12,-.02,.08,-.03,.09,.08],
 [-.08,-.02,.1,.04,-.04,.13,-.02,.07,-.11,.14,.08,-.13,.05,.1,.08,-.02],
 [-.08,.09,-.02,.04,-.04,.14,.07,-.13,-.12,-.02,.14,.08,.06,.07,-.02],
 [-.08,.11,-.01,.04,-.03,.13,-.02,.15,-.11,.09,.08,-.12,.09,.07,.11,-.02],
 [-.1,-.02,.09,.03,.12,-.05,-.02,-.12,.08,.08,.14,-.13,.1,.05,-.02,.08],
 [-.08,-.02,.1,.04,-.04,.13,.08,-.11,-.02,.14,-.12,.08,.06,.1,-.02,.08],
 [-.09,.08,.08,-.02,.04,.13,-.04,-.02,-.12,.14,.08,.05,-.02,.11,.08],
 [-.09,.09,-.02,.03,.11,.06,-.06,-.13,-.03,.13,-.14,.07,.04,.1,-.03,.08],
 [-.09,-.02,.09,.04,.13,-.05,-.02,-.12,.07,.14,.09,-.12,.07,.05,.11,-.02],
 [.08,-.09,-.02,.03,.12,-.04,.07,-.13,-.02,.14,-.12,.06,.07,.1,.07,-.02]
];
const boxTicks = [27,30,33,36,39,42,45];

// ---------- Panel D: term prevalence by group (%) ----------
const lineYears = d3.range(2010,2026);
const lineYearTicks = [2010,2012,2014,2016,2018,2020,2022,2024];
const t1Group1 = [5.73,5.55,5.67,5.71,5.58,5.53,5.51,5.54,5.71,5.63,5.75,5.48,5.86,5.95,5.34,4.54];
const t1Group2 = [3.76,3.51,3.62,3.74,3.82,3.78,3.89,3.89,4.05,4.01,4.18,3.93,4.12,4.05,3.43,2.54];
const t2Group1 = [2.3,2.35,2.45,2.52,2.54,2.67,2.8,2.7,2.78,2.8,3.0,2.96,3.09,3.25,3.31,3.37];
const t2Group2 = [1.73,1.82,1.93,1.98,2.2,2.4,2.43,2.35,2.37,2.32,2.52,2.6,2.43,2.51,2.71,2.87];
const t3Group1 = [26.96,27.2,27.83,28.2,28.8,29.48,30.27,28.81,29.42,29.88,30.69,31.46,32.4,33.72,34.68,37.2];
const t3Group2 = [23.79,23.87,25.6,25.55,26.8,27.56,28.31,27.77,28.67,29.38,30.49,31.8,33.07,35.29,37.24,42.29];
const leftTicks = [0,2,4,6,8];
const rightTicks = [20,26,32,38,44];
const lineColors = {T1:"#c0392b",T2:"#e67e22",T3:"#2980b9"};

// ---------- Shared helpers ----------
const svg = d3.select("#fig");
const FONT_L = 22.5, FONT_M = 21;

function styleAxis(g, colour, width, fontSize){
  g.selectAll("path.domain").attr("stroke",colour).attr("stroke-width",width);
  g.selectAll(".tick line").attr("stroke",colour).attr("stroke-width",width);
  g.selectAll(".tick text").style("font-size",fontSize+"px").style("font-family",'"Liberation Sans",Arial,sans-serif').attr("fill","#000");
}
function rotatedLabel(x,y,text,size,fill){
  svg.append("text").attr("transform",`translate(${x},${y}) rotate(-90)`)
    .attr("text-anchor","middle").style("font-size",size+"px").style("fill",fill||"#000").text(text);
}
function verticalGradient(id,scheme){
  const g = svg.append("defs").append("linearGradient").attr("id",id)
    .attr("x1",0).attr("y1",1).attr("x2",0).attr("y2",0);
  scheme.forEach((c,i)=>g.append("stop").attr("offset",i/(scheme.length-1)).attr("stop-color",c));
}
function panelLetter(t,x,y,size){
  svg.append("text").attr("x",x).attr("y",y).style("font-size",size+"px").text(t);
}

// ---------- Panel A: two choropleth maps ----------
const mapColor = d3.scaleLinear()
  .domain(d3.range(9).map(i=>20+i*5)).range(d3.schemeOrRd[9]).clamp(true);

const features = Object.entries(countryRings).map(([name,rings])=>({
  type:"Feature",name,
  geometry:{type:"MultiPolygon",coordinates:rings.map(r=>[r.split(",").map(p=>p.trim().split(" ").map(Number))])}
}));

function drawMap(values,xRange,yEquator,yPerDegree,title,titleX){
  const lon = d3.scaleLinear().domain([-180,180]).range(xRange);
  const lat = d3.scaleLinear().domain([0,1]).range([yEquator,yEquator-yPerDegree]);
  const path = d3.geoPath(d3.geoTransform({point(x,y){this.stream.point(lon(x),lat(y));}}));
  const g = svg.append("g");
  g.selectAll("circle").data(smallIslands).join("circle")
    .attr("cx",d=>lon(d[0])).attr("cy",d=>lat(d[1])).attr("r",0.9).attr("fill","#dcdcdc");
  const ordered = features.slice().sort((a,b)=>(values[a.name]!=null)-(values[b.name]!=null));
  g.selectAll("path").data(ordered).join("path")
    .attr("d",path)
    .attr("fill",d=>values[d.name]!=null?mapColor(values[d.name]):"#e6e6e6")
    .attr("stroke",d=>values[d.name]!=null?"#999":"#cfcfcf")
    .attr("stroke-width",0.8)
    .attr("stroke-linejoin","round");
  svg.append("text").attr("x",titleX).attr("y",63).attr("text-anchor","middle").style("font-size","29px").text(title);
}
drawMap(prevalence2010,[167,1028],323,3.08,"Year 2010",616);
drawMap(prevalence2024,[1052,1911],327,3.1,"Year 2024",1611);
panelLetter("A",144,38,28);

// Colour bar for the maps
verticalGradient("mapGrad",d3.schemeOrRd[9]);
const mapBar = d3.scaleLinear().domain([20,60]).range([520,31.5]);
svg.append("rect").attr("x",1928).attr("y",31.5).attr("width",16).attr("height",488.5)
  .attr("fill","url(#mapGrad)").attr("stroke","#222").attr("stroke-width",1.4);
const mapAxis = svg.append("g").attr("transform","translate(1944,0)")
  .call(d3.axisRight(mapBar).tickValues(mapTicks).tickSize(6).tickPadding(6));
mapAxis.select("path.domain").remove();
styleAxis(mapAxis,"#000",1.2,26);
rotatedLabel(2013,266,"Prevalence of Militaristic Terms\u00A0\u00A0(%)",24.5);

// ---------- Panel B: heat map ----------
const heatX = d3.scaleBand().domain(heatYears).range([187,700]);
const heatY = d3.scaleBand().domain(heatRegions).range([584,1005]);
const heatColor = d3.scaleLinear()
  .domain(d3.range(9).map(i=>24+i*49/8)).range(d3.schemeYlOrRd[9]);
const heatG = svg.append("g");
heatRegions.forEach((region,r)=>{
  heatG.selectAll(null).data(heatValues[r]).join("rect")
    .attr("x",(d,i)=>heatX(heatYears[i])).attr("y",heatY(region))
    .attr("width",heatX.bandwidth()).attr("height",heatY.bandwidth())
    .attr("fill",d=>heatColor(d)).attr("stroke","#fff").attr("stroke-opacity",.85).attr("stroke-width",1);
});
const heatAxisY = svg.append("g").attr("transform","translate(187,0)")
  .call(d3.axisLeft(heatY).tickSize(0).tickPadding(4));
heatAxisY.select("path.domain").remove();
styleAxis(heatAxisY,"#000",1,FONT_L);
const heatAxisX = svg.append("g").attr("transform","translate(0,1005)")
  .call(d3.axisBottom(heatX).tickValues(heatYearTicks).tickSize(6).tickPadding(4));
heatAxisX.select("path.domain").remove();
styleAxis(heatAxisX,"#333",1.2,22);
svg.append("text").attr("x",442).attr("y",1058).attr("text-anchor","middle").style("font-size","22px").text("Year");
panelLetter("B",19,592,28);

verticalGradient("heatGrad",d3.schemeYlOrRd[9]);
const heatBar = d3.scaleLinear().domain(heatBarTicks).range([981.5,903,808,712,609]);
svg.append("rect").attr("x",716).attr("y",609).attr("width",19).attr("height",372.5)
  .attr("fill","url(#heatGrad)").attr("stroke","#111").attr("stroke-width",1.4);
const heatBarAxis = svg.append("g").attr("transform","translate(735,0)")
  .call(d3.axisRight(heatBar).tickValues(heatBarTicks).tickSize(5).tickPadding(6));
heatBarAxis.select("path.domain").remove();
styleAxis(heatBarAxis,"#000",1.2,22);
heatBarAxis.selectAll(".tick text").each(function(d){
  if(d===73) d3.select(this).attr("dy","0.8em");
  if(d===24) d3.select(this).attr("dy","0.15em");
});
rotatedLabel(793,793,"Militaristic Terms Prevalence (%)",22);

// ---------- Panel C: box plots with jittered years ----------
const boxX = d3.scalePoint().domain(boxCountries).range([952.5,1378.5]);
const boxStep = boxX.step();
const boxY = d3.scaleLinear().domain([27,45]).range([933.3,591.7]);
const boxW = 29, capW = 14;
const boxG = svg.append("g");
boxCountries.forEach((c,i)=>{
  const cx = boxX(c);
  boxG.append("line").attr("x1",cx).attr("x2",cx).attr("y1",boxY(boxLow[i])).attr("y2",boxY(boxHigh[i]))
    .attr("stroke","#555").attr("stroke-width",1.8);
  [boxLow[i],boxHigh[i]].forEach(v=>boxG.append("line").attr("x1",cx-capW/2).attr("x2",cx+capW/2)
    .attr("y1",boxY(v)).attr("y2",boxY(v)).attr("stroke","#555").attr("stroke-width",1.8));
  boxG.append("rect").attr("x",cx-boxW/2).attr("width",boxW)
    .attr("y",boxY(boxQ3[i])).attr("height",boxY(boxQ1[i])-boxY(boxQ3[i]))
    .attr("fill","#f2bd8b").attr("stroke","#a39a90").attr("stroke-width",1.6);
  boxG.append("line").attr("x1",cx-boxW/2+.5).attr("x2",cx+boxW/2-.5).attr("y1",boxY(boxMed[i])).attr("y2",boxY(boxMed[i]))
    .attr("stroke","#2b2b2b").attr("stroke-width",2.2);
  boxOutliers[i].forEach(v=>boxG.append("circle").attr("cx",cx).attr("cy",boxY(v)).attr("r",2.8)
    .attr("fill","none").attr("stroke","#777").attr("stroke-width",1.2));
  boxG.selectAll(null).data(boxPoints[i]).join("circle")
    .attr("cx",(d,k)=>cx+boxJitter[i][k]*boxStep).attr("cy",d=>boxY(d)).attr("r",3.1)
    .attr("fill","#e67e22").attr("fill-opacity",.68);
});
const boxAxisY = svg.append("g").attr("transform","translate(928.5,0)")
  .call(d3.axisLeft(boxY).tickValues(boxTicks).tickSize(6).tickPadding(4));
boxAxisY.select("path.domain").attr("d","M0,966V571");
styleAxis(boxAxisY,"#444",1.6,FONT_M);
const boxAxisX = svg.append("g").attr("transform","translate(0,966)")
  .call(d3.axisBottom(boxX).tickSize(6));
boxAxisX.select("path.domain").attr("d","M928.5,0H1402");
styleAxis(boxAxisX,"#444",1.6,FONT_M);
boxAxisX.selectAll(".tick text").attr("transform","rotate(-90)").attr("text-anchor","end")
  .attr("x",-11).attr("y",0).attr("dy","0.35em");
rotatedLabel(877,772,"Militaristic Terms Prevalence (%)",FONT_M);
panelLetter("C",841,596,28);

// ---------- Panel D: line chart with two value axes ----------
const lineX = d3.scaleLinear().domain([2010,2024]).range([1535.6,2025.7]);
const leftY = d3.scaleLinear().domain([0,8]).range([1000,603]);
const rightY = d3.scaleLinear().domain([20,44]).range([1000,603]);
const makeLine = y => d3.line().x((d,i)=>lineX(lineYears[i])).y(d=>y(d));
const lineSeries = [
  {vals:t1Group1,y:leftY,key:"T1",dash:null,label:"T1 – Group1"},
  {vals:t1Group2,y:leftY,key:"T1",dash:"11 6",label:"T1 – Group2"},
  {vals:t2Group1,y:leftY,key:"T2",dash:null,label:"T2 – Group1"},
  {vals:t2Group2,y:leftY,key:"T2",dash:"11 6",label:"T2 – Group2"},
  {vals:t3Group1,y:rightY,key:"T3",dash:null,label:"T3 – Group1"},
  {vals:t3Group2,y:rightY,key:"T3",dash:"11 6",label:"T3 – Group2"}
];
svg.append("g").selectAll("path").data(lineSeries).join("path")
  .attr("d",s=>makeLine(s.y)(s.vals)).attr("fill","none")
  .attr("stroke",s=>lineColors[s.key]).attr("stroke-width",3.6)
  .attr("stroke-dasharray",s=>s.dash);
const dLeft = svg.append("g").attr("transform","translate(1518.5,0)")
  .call(d3.axisLeft(leftY).tickValues(leftTicks).tickSize(6).tickPadding(4).tickFormat(d3.format("d")));
styleAxis(dLeft,"#222",1.4,FONT_M+0.5);
const dRight = svg.append("g").attr("transform","translate(2079,0)")
  .call(d3.axisRight(rightY).tickValues(rightTicks).tickSize(7).tickPadding(6).tickFormat(d3.format("d")));
styleAxis(dRight,lineColors.T3,2,FONT_M+0.5);
dRight.selectAll(".tick text").style("fill",lineColors.T3).attr("fill",lineColors.T3);
const dBottom = svg.append("g").attr("transform","translate(0,1000)")
  .call(d3.axisBottom(lineX).tickValues(lineYearTicks).tickSize(6).tickPadding(5).tickFormat(d3.format("d")));
dBottom.select("path.domain").attr("d","M1518.5,0H2079");
styleAxis(dBottom,"#222",1.4,FONT_M+0.5);
svg.append("text").attr("x",1792).attr("y",1061).attr("text-anchor","middle").style("font-size",FONT_M+"px").text("Year");
rotatedLabel(1478,802,"T1 & T2 Militaristic Terms Prevalence (%)",FONT_M+0.5);
rotatedLabel(2146,801,"T3 Militaristic Terms Prevalence (%)",FONT_M+0.5,lineColors.T3);
panelLetter("D",1438,590,28);

// Legend, two rows in three columns
const legendColumns = [1713,1835,1946];
const legendRows = [611.7,627.7];
lineSeries.forEach((s,i)=>{
  const col = Math.floor(i/2), row = i%2;
  svg.append("line").attr("x1",legendColumns[col]).attr("x2",legendColumns[col]+23)
    .attr("y1",legendRows[row]).attr("y2",legendRows[row])
    .attr("stroke",lineColors[s.key]).attr("stroke-width",2.6)
    .attr("stroke-dasharray",s.dash?"8 4":null);
  svg.append("text").attr("x",legendColumns[col]+28).attr("y",legendRows[row]+4.5)
    .style("font-size","13px").text(s.label);
});
</script>
</body>
</html>
